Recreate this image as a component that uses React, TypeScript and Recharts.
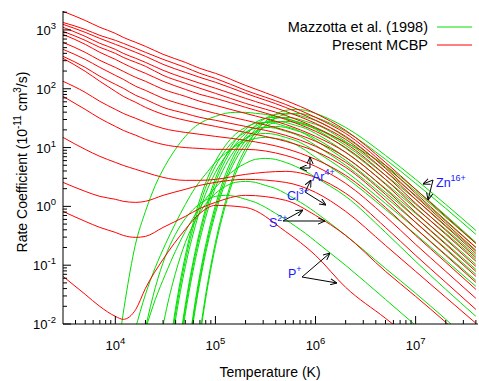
import { LineChart, Line, XAxis, YAxis } from "recharts";

// ── 크기 / 색상 ──
const W = 479;
const H = 381;
const RED = "#ff0000";
const GREEN = "#00e000";
const BLUE = "#1a1aff";
const FONT = '"Liberation Sans", Arial, Helvetica, sans-serif';

// ── 축 ──
const X_DOMAIN = [3000, 42000000];
const Y_DOMAIN = [0.01, 2100];
const X_MAJOR = [1e4, 1e5, 1e6, 1e7];
const Y_MAJOR = [0.01, 0.1, 1, 10, 100, 1000];
const X_DECADES = [1e3, 1e4, 1e5, 1e6, 1e7];
const MINOR_STEPS = [2, 3, 4, 5, 6, 7, 8, 9];

const inside = (v: number, d: number[]) => v > d[0] * 1.0001 && v <= d[1];
const X_TICKS = [...X_MAJOR, ...X_DECADES.flatMap((d) => MINOR_STEPS.map((m) => d * m))].filter((v) => inside(v, X_DOMAIN));
const Y_TICKS = [0.01, ...[...Y_MAJOR, ...Y_MAJOR.flatMap((d) => MINOR_STEPS.map((m) => d * m))].filter((v) => inside(v, Y_DOMAIN))];

// ── Present MCBP (red), temperatures in K ──
const MCBP_T = [3000, 5000, 7000, 10000, 12000, 16000, 20000, 30000, 50000, 70000, 100000, 200000, 500000, 1e6, 2e6, 5e6, 1e7, 2e7, 4e7];
const MCBP_ZN = [2070, 1450, 1110, 875, 748, 615, 526, 385, 281, 222, 183, 114, 63.5, 38.1, 19.6, 5.6, 1.95, 0.676, 0.235];
const MCBP_CU = [1340, 1020, 809, 666, 592, 487, 416, 316, 231, 183, 150, 94.0, 54.3, 32.6, 17.4, 4.98, 1.67, 0.578, 0.201];
const MCBP_NI = [1245, 910, 719, 569, 506, 416, 356, 260, 190, 156, 129, 83.5, 48.3, 29.1, 15.5, 4.43, 1.48, 0.514, 0.179];
const MCBP_CO = [1110, 778, 592, 468, 400, 329, 281, 206, 150, 124, 102, 68.7, 41.3, 25.8, 13.8, 3.94, 1.32, 0.457, 0.159];
const MCBP_FE = [946, 666, 506, 400, 342, 281, 241, 169, 124, 102, 83.5, 56.4, 35.3, 22.0, 11.8, 3.37, 1.13, 0.391, 0.136];
const MCBP_MN = [841, 569, 416, 316, 270, 214, 183, 134, 97.7, 80.3, 68.7, 48.3, 30.2, 18.9, 10.0, 2.88, 0.96, 0.334, 0.117];
const MCBP_CR = [615, 416, 304, 231, 198, 156, 134, 97.7, 74.3, 61.1, 52.2, 38.1, 24.8, 15.5, 8.29, 2.37, 0.79, 0.275, 0.0953];
const MCBP_V = [468, 316, 231, 169, 145, 110, 94.0, 68.7, 52.2, 44.6, 38.1, 29.1, 19.6, 12.8, 6.81, 1.95, 0.65, 0.226, 0.0785];
const MCBP_TI = [356, 231, 163, 119, 102, 77.2, 66.0, 48.3, 38.1, 32.6, 29.1, 22.9, 16.2, 10.5, 5.6, 1.6, 0.534, 0.186, 0.0646];
const MCBP_SC = [329, 198, 134, 90.4, 74.3, 58.7, 48.3, 36.7, 29.1, 25.8, 22.9, 18.1, 12.8, 8.62, 4.61, 1.27, 0.422, 0.147, 0.051];
const MCBP_CA = [134, 86.9, 61.1, 44.6, 38.1, 31.4, 26.8, 21.2, 18.1, 16.8, 15.5, 13.3, 9.66, 6.3, 3.37, 0.96, 0.321, 0.112, 0.0388];
const MCBP_K = [74.3, 44.6, 31.4, 22.9, 19.6, 16.2, 13.8, 11.3, 10.0, 9.66, 9.32, 9.32, 7.37, 4.79, 2.46, 0.676, 0.226, 0.0785, 0.0273];
const MCBP_AR = [14.9, 9.32, 7.09, 5.6, 4.98, 4.26, 3.79, 3.11, 2.77, 2.77, 2.88, 3.5, 3.94, 3.11, 1.67, 0.439, 0.147, 0.051, 0.0177];
const MCBP_CL = [2.56, 1.8, 1.48, 1.32, 1.22, 1.17, 1.22, 1.54, 1.95, 2.28, 2.56, 2.88, 2.56, 1.73, 0.822, 0.217, 0.0785, 0.0284, 0.0103];
const MCBP_S = [0.822, 0.556, 0.439, 0.361, 0.321, 0.297, 0.309, 0.439, 0.676, 0.923, 1.17, 1.54, 1.27, 0.703, 0.321, 0.0785, 0.0295, 0.0107, 0.0037];
const MCBP_P = [0.0646, 0.0319, 0.0199, 0.0135, 0.012, 0.0177, 0.0404, 0.126, 0.406, 0.76, 1.04, 0.96, 0.376, 0.147, 0.042, 0.0125, 0.00486, 0.00175, 0.00063];

// ── Mazzotta et al. (1998) (green) ──
const MAZ_T = [10000, 12600, 15800, 20000, 25100, 31600, 39800, 50100, 63100, 79400, 100000, 126000, 158000, 200000, 251000, 316000, 398000, 501000, 631000, 794000, 1e6, 2e6, 5e6, 1e7, 2e7, 4e7];
const _ = null;
const MAZ_ZN = [_, _, _, _, _, _, _, _, 0.0019, 0.0294, 0.244, 1.21, 4.09, 9.68, 18.1, 27.9, 36.7, 42.9, 44.6, 42.9, 38.1, 22.0, 7.36, 2.88, 1.08, 0.39];
const MAZ_CU = [_, _, _, _, _, _, _, _, 0.0016, 0.0252, 0.209, 1.04, 3.51, 8.29, 15.5, 23.9, 31.4, 36.7, 38.2, 36.7, 32.7, 18.9, 6.3, 2.46, 0.924, 0.334];
const MAZ_NI = [0.00169, 0.0262, 0.217, 0.822, 2.28, 4.98, 9.32, 15.5, 22.9, 29.0, 33.9, 38.2, 39.7, 39.7, 38.2, 36.7, 33.9, 31.4, 27.9, 24.8, 21.2, 12.3, 4.98, 1.95, 0.703, 0.244];
const MAZ_CO = [_, _, _, _, _, _, _, 0.0016, 0.0252, 0.209, 1.04, 3.51, 8.29, 15.5, 23.9, 31.4, 36.7, 38.2, 36.7, 32.7, 29.0, 14.9, 4.62, 1.8, 0.649, 0.235];
const MAZ_FE = [_, _, _, _, _, _, _, 0.0014, 0.0215, 0.178, 0.887, 2.99, 7.07, 13.2, 20.4, 26.8, 31.4, 32.6, 31.4, 27.9, 24.8, 12.7, 3.94, 1.54, 0.554, 0.2];
const MAZ_MN = [_, _, _, _, _, _, _, 0.0012, 0.0184, 0.153, 0.759, 2.56, 6.05, 11.3, 17.4, 22.9, 26.8, 27.9, 26.8, 23.9, 21.2, 10.9, 3.38, 1.32, 0.474, 0.172];
const MAZ_CR = [_, _, _, _, _, _, 0.0014, 0.0215, 0.178, 0.887, 2.99, 7.07, 13.2, 20.4, 26.8, 31.4, 32.6, 31.4, 27.9, 24.8, 20.4, 9.68, 2.88, 1.08, 0.408, 0.147];
const MAZ_V = [_, _, _, _, _, _, 0.0012, 0.0184, 0.153, 0.759, 2.56, 6.05, 11.3, 17.4, 22.9, 26.8, 27.9, 26.8, 23.9, 21.2, 17.4, 8.29, 2.46, 0.923, 0.349, 0.126];
const MAZ_TI = [_, _, _, _, _, _, 0.00098, 0.0151, 0.125, 0.623, 2.1, 4.97, 9.3, 14.3, 18.8, 22.0, 22.9, 22.0, 19.6, 17.4, 14.3, 6.8, 2.02, 0.758, 0.286, 0.103];
const MAZ_SC = [_, _, _, _, _, 0.0011, 0.0177, 0.147, 0.729, 2.46, 5.82, 10.9, 16.8, 22.0, 25.8, 26.8, 25.8, 22.9, 20.4, 16.8, 13.2, 6.06, 1.73, 0.649, 0.235, 0.0847];
const MAZ_CA = [_, _, _, _, _, 0.00094, 0.0146, 0.121, 0.601, 2.03, 4.8, 8.97, 13.8, 18.2, 21.3, 22.1, 21.3, 18.9, 16.8, 13.8, 10.9, 5.0, 1.43, 0.535, 0.193, 0.0698];
const MAZ_K = [_, _, _, _, _, 0.00074, 0.0115, 0.0952, 0.473, 1.6, 3.78, 7.06, 10.9, 14.3, 16.7, 17.4, 16.7, 14.9, 13.2, 10.9, 8.6, 3.93, 1.12, 0.421, 0.152, 0.055];
const MAZ_AR = [_, _, 0.00809, 0.0319, 0.0918, 0.226, 0.514, 1.08, 2.1, 3.5, 5.6, 7.96, 10.5, 12.7, 14.3, 14.9, 14.3, 13.2, 11.3, 8.96, 6.81, 3.11, 0.889, 0.334, 0.121, 0.0436];
const MAZ_CL = [_, _, _, 0.00809, 0.0262, 0.0698, 0.172, 0.376, 0.731, 1.32, 2.1, 3.11, 4.26, 5.39, 6.3, 6.55, 6.3, 5.6, 4.79, 3.94, 3.11, 1.48, 0.361, 0.116, 0.0388, 0.0135];
const MAZ_S = [_, _, _, _, 0.00176, 0.0146, 0.0724, 0.244, 0.577, 1.08, 1.66, 2.19, 2.56, 2.66, 2.56, 2.27, 2.02, 1.66, 1.31, 1.04, 0.79, 0.322, 0.088, 0.0333, 0.012, 0.00415];
const MAZ_P = [_, _, 0.00102, 0.00842, 0.0419, 0.141, 0.334, 0.625, 0.963, 1.27, 1.48, 1.54, 1.48, 1.32, 1.17, 0.963, 0.761, 0.602, 0.457, 0.348, 0.254, 0.0993, 0.0262, 0.00947, 0.00342, 0.00124];

const MCBP = [MCBP_ZN, MCBP_CU, MCBP_NI, MCBP_CO, MCBP_FE, MCBP_MN, MCBP_CR, MCBP_V, MCBP_TI, MCBP_SC, MCBP_CA, MCBP_K, MCBP_AR, MCBP_CL, MCBP_S, MCBP_P];
const MAZZOTTA = [MAZ_ZN, MAZ_CU, MAZ_NI, MAZ_CO, MAZ_FE, MAZ_MN, MAZ_CR, MAZ_V, MAZ_TI, MAZ_SC, MAZ_CA, MAZ_K, MAZ_AR, MAZ_CL, MAZ_S, MAZ_P];

const toPoints = (ts: number[], vs: (number | null)[]) =>
  vs.map((v, i) => ({ t: ts[i], v })).filter((p) => p.v != null);

// ── 눈금 ──

const exp10 = (v: number) => Math.round(Math.log10(v));

function BottomTick({ x, y, payload }: any) {
  const major = X_MAJOR.includes(payload.value);
  return (
    <g>
      <line x1={x} x2={x} y1={y} y2={y - (major ? 8 : 4)} stroke="#000" />
      {major && (
        <text x={x} y={y + 26} textAnchor="middle" fontSize={13} fill="#000">
          10<tspan dy={-6} fontSize={9.5}>{exp10(payload.value)}</tspan>
        </text>
      )}
    </g>
  );
}

function TopTick({ x, y, payload }: any) {
  const major = X_MAJOR.includes(payload.value);
  return <line x1={x} x2={x} y1={y} y2={y + (major ? 8 : 4)} stroke="#000" />;
}

function LeftTick({ x, y, payload }: any) {
  const major = Y_MAJOR.includes(payload.value);
  return (
    <g>
      <line x1={x} x2={x + (major ? 8 : 4)} y1={y} y2={y} stroke="#000" />
      {major && (
        <text x={x - 7} y={y + 5} textAnchor="end" fontSize={13} fill="#000">
          10<tspan dy={-6} fontSize={9.5}>{exp10(payload.value)}</tspan>
        </text>
      )}
    </g>
  );
}

function RightTick({ x, y, payload }: any) {
  const major = Y_MAJOR.includes(payload.value);
  return <line x1={x} x2={x - (major ? 8 : 4)} y1={y} y2={y} stroke="#000" />;
}

// ── 주석 ──

const ARROWS = [
  [433, 180, 423, 184], [433, 180, 428, 200],
  [310, 168, 300, 168], [310, 168, 310, 157],
  [305, 192, 311, 180], [305, 192, 326, 205],
  [283, 221, 303, 210], [283, 221, 325, 221],
  [302, 277, 330, 253], [302, 277, 337, 283],
];

const IONS = [
  { x: 436, y: 187, el: "Zn", q: "16+" },
  { x: 312, y: 181, el: "Ar", q: "4+" },
  { x: 287, y: 200, el: "Cl", q: "3+" },
  { x: 269, y: 227, el: "S", q: "2+" },
  { x: 288, y: 278, el: "P", q: "+" },
];

export default function App() {
  const axisProps = {
    type: "number" as const,
    scale: "log" as const,
    allowDataOverflow: true,
    interval: 0 as const,
    tickLine: false,
    tickSize: 0,
    tickMargin: 0,
    axisLine: { stroke: "#000" },
  };
  return (
    <div style={{ position: "absolute", left: 0, top: 0, width: W, height: H, background: "#fff", fontFamily: FONT }}>
      <LineChart width={W} height={H} margin={{ top: 11, right: 1, bottom: 27, left: 8 }}>
        <XAxis {...axisProps} dataKey="t" domain={X_DOMAIN} ticks={X_TICKS} tick={<BottomTick />} height={30} />
        <XAxis {...axisProps} xAxisId="top" orientation="top" dataKey="t" domain={X_DOMAIN} ticks={X_TICKS} tick={<TopTick />} height={0} />
        <YAxis {...axisProps} domain={Y_DOMAIN} ticks={Y_TICKS} tick={<LeftTick />} width={55} />
        <YAxis {...axisProps} yAxisId="right" orientation="right" domain={Y_DOMAIN} ticks={Y_TICKS} tick={<RightTick />} width={0} />
        {MAZZOTTA.map((vals, i) => (
          <Line key={`g${i}`} data={toPoints(MAZ_T, vals)} dataKey="v" type="monotone" stroke={GREEN} strokeWidth={1} dot={false} activeDot={false} isAnimationActive={false} />
        ))}
        {MCBP.map((vals, i) => (
          <Line key={`r${i}`} data={toPoints(MCBP_T, vals)} dataKey="v" type="monotone" stroke={RED} strokeWidth={1} dot={false} activeDot={false} isAnimationActive={false} />
        ))}
      </LineChart>

      <svg width={W} height={H} style={{ position: "absolute", left: 0, top: 0, pointerEvents: "none" }}>
        <defs>
          <marker id="head" viewBox="0 0 10 10" refX="10" refY="5" markerWidth="7" markerHeight="7" markerUnits="userSpaceOnUse" orient="auto">
            <path d="M0,0.5 L10,5 L0,9.5" fill="none" stroke="#000" strokeWidth={1.4} />
          </marker>
        </defs>

        {/* 범례 */}
        <text x={428} y={32} textAnchor="end" fontSize={14.5} fill="#000">Mazzotta et al. (1998)</text>
        <line x1={437} x2={472} y1={27} y2={27} stroke={GREEN} />
        <text x={428} y={50} textAnchor="end" fontSize={14.5} fill="#000">Present MCBP</text>
        <line x1={437} x2={472} y1={45} y2={45} stroke={RED} />

        {/* 축 제목 */}
        <text x={270} y={377} textAnchor="middle" fontSize={14} fill="#000">Temperature (K)</text>
        <text transform="translate(27,162) rotate(-90)" textAnchor="middle" fontSize={14} fill="#000">
          Rate Coefficient (10<tspan dy={-6} fontSize={10}>-11</tspan>
          <tspan dy={6}>{" cm"}</tspan>
          <tspan dy={-6} fontSize={10}>3</tspan>
          <tspan dy={6}>/s)</tspan>
        </text>

        {/* 이온 표시 */}
        {ARROWS.map(([x1, y1, x2, y2], i) => (
          <line key={i} x1={x1} y1={y1} x2={x2} y2={y2} stroke="#000" strokeWidth={1} markerEnd="url(#head)" />
        ))}
        {IONS.map((d) => (
          <text key={d.el} x={d.x} y={d.y} fontSize={12.5} fill={BLUE}>
            {d.el}<tspan dy={-6} fontSize={9}>{d.q}</tspan>
          </text>
        ))}
      </svg>
    </div>
  );
}
